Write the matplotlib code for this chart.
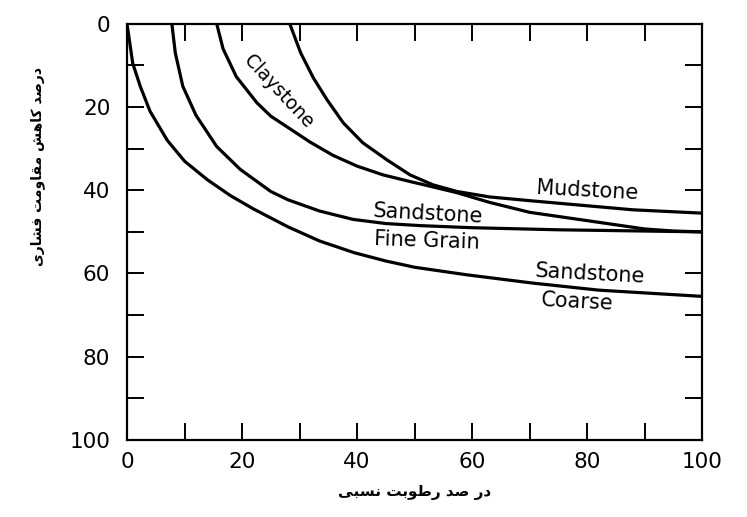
# -*- coding:utf-8 -*-
import matplotlib
matplotlib.use("Agg")
import matplotlib.pyplot as plt
from matplotlib.ticker import MultipleLocator

# values (relative humidity %, strength loss %)
coarse_x = [0, 1, 2.3, 4, 7, 10, 14, 18, 22, 28, 33.5, 39.5, 45, 50, 59, 70.5, 82, 100]
coarse_y = [0, 9.5, 15, 21, 28, 33, 37.5, 41.3, 44.5, 48.8, 52.2, 55, 57, 58.5, 60.3, 62.3, 64, 65.5]

fine_x = [7.8, 8.4, 9.7, 12, 15.6, 19.7, 25, 28, 33.5, 39.3, 45, 51, 60, 75, 100]
fine_y = [0, 7, 15, 22, 29.5, 35, 40.3, 42.3, 45, 47, 48, 48.5, 49, 49.5, 50]

clay_x = [15.6, 16.7, 19, 22.6, 25, 28.3, 31.8, 35.8, 40, 44.5, 49.2, 53.2, 57.4, 63, 70, 76.5, 85, 90, 95, 100]
clay_y = [0, 6, 12.7, 19, 22.2, 25.2, 28.4, 31.6, 34.2, 36.3, 37.9, 39.2, 40.6, 42.9, 45.3, 46.6, 48.3, 49.3, 49.8, 50]

mud_x = [28.3, 30.2, 32.4, 34.8, 37.6, 41, 45.2, 49.2, 53.2, 57.4, 63, 70, 76.5, 88, 100]
mud_y = [0, 7, 13, 18.3, 23.8, 28.6, 32.7, 36.3, 38.7, 40.3, 41.6, 42.5, 43.3, 44.7, 45.5]

x_ticks = [0, 20, 40, 60, 80, 100]
y_ticks = [0, 20, 40, 60, 80, 100]

xlabel_fa = "در صد رطوبت نسبی"
ylabel_fa = "درصد کاهش مقاومت فشاری"

# simple persian shaping (no arabic_reshaper available)
# letter: (isolated, final, initial, medial)
FORMS = {
    "ا": (0xFE8D, 0xFE8E, None, None),
    "ب": (0xFE8F, 0xFE90, 0xFE91, 0xFE92),
    "ت": (0xFE95, 0xFE96, 0xFE97, 0xFE98),
    "د": (0xFEA9, 0xFEAA, None, None),
    "ر": (0xFEAD, 0xFEAE, None, None),
    "س": (0xFEB1, 0xFEB2, 0xFEB3, 0xFEB4),
    "ش": (0xFEB5, 0xFEB6, 0xFEB7, 0xFEB8),
    "ص": (0xFEB9, 0xFEBA, 0xFEBB, 0xFEBC),
    "ط": (0xFEC1, 0xFEC2, 0xFEC3, 0xFEC4),
    "ف": (0xFED1, 0xFED2, 0xFED3, 0xFED4),
    "ق": (0xFED5, 0xFED6, 0xFED7, 0xFED8),
    "م": (0xFEE1, 0xFEE2, 0xFEE3, 0xFEE4),
    "ن": (0xFEE5, 0xFEE6, 0xFEE7, 0xFEE8),
    "ه": (0xFEE9, 0xFEEA, 0xFEEB, 0xFEEC),
    "و": (0xFEED, 0xFEEE, None, None),
    "ی": (0xFBFC, 0xFBFD, 0xFBFE, 0xFBFF),
    "ک": (0xFB8E, 0xFB8F, 0xFB90, 0xFB91),
}


def shape(text):
    out = []
    for i, ch in enumerate(text):
        if ch not in FORMS:
            out.append(ch)
            continue
        prev = text[i - 1] if i > 0 else " "
        nxt = text[i + 1] if i + 1 < len(text) else " "
        join_prev = prev in FORMS and FORMS[prev][2] is not None
        join_next = nxt in FORMS and FORMS[ch][2] is not None
        iso, fin, ini, med = FORMS[ch]
        if join_prev and join_next:
            code = med
        elif join_prev:
            code = fin
        elif join_next:
            code = ini
        else:
            code = iso
        out.append(chr(code))
    return "".join(out)[::-1]


plt.rcParams['font.family'] = ['DejaVu Sans']

fig = plt.figure(figsize=(7.47, 5.17), dpi=100)
ax = fig.add_axes([0.170, 0.149, 0.770, 0.805])

for xs, ys in [(coarse_x, coarse_y), (fine_x, fine_y), (clay_x, clay_y), (mud_x, mud_y)]:
    ax.plot(xs, ys, color="black", lw=2.3, solid_joinstyle="round", solid_capstyle="round")

ax.set_xlim(0, 100)
ax.set_ylim(100, 0)
ax.set_xticks(x_ticks)
ax.set_yticks(y_ticks)
ax.xaxis.set_minor_locator(MultipleLocator(10))
ax.yaxis.set_minor_locator(MultipleLocator(10))
ax.tick_params(which="both", direction="in", length=12, width=1.4,
               top=True, right=True, labelsize=15.5, colors="black")
ax.tick_params(axis="y", pad=12)
ax.tick_params(axis="x", pad=9)
for s in ax.spines.values():
    s.set_linewidth(1.6)

# curve names
ax.text(26.3, 16.3, "Claystone", rotation=-47, fontsize=13.5, ha="center", va="center")
ax.text(80, 40.2, "Mudstone", rotation=-3, fontsize=15, ha="center", va="center")
ax.text(52.4, 45.7, "Sandstone", rotation=-3, fontsize=15, ha="center", va="center")
ax.text(52.1, 52.2, "Fine Grain", rotation=-2, fontsize=15, ha="center", va="center")
ax.text(80.5, 60, "Sandstone", rotation=-3, fontsize=15, ha="center", va="center")
ax.text(78.3, 66.8, "Coarse", rotation=-3, fontsize=15, ha="center", va="center")

fig.text(415 / 747, 1 - 493 / 517, shape(xlabel_fa), fontsize=11, fontweight="bold",
         ha="center", va="center")
fig.text(38 / 747, 1 - 166 / 517, shape(ylabel_fa), fontsize=10, fontweight="bold",
         rotation=90, ha="center", va="center")

fig.savefig("out.png", dpi=100)
